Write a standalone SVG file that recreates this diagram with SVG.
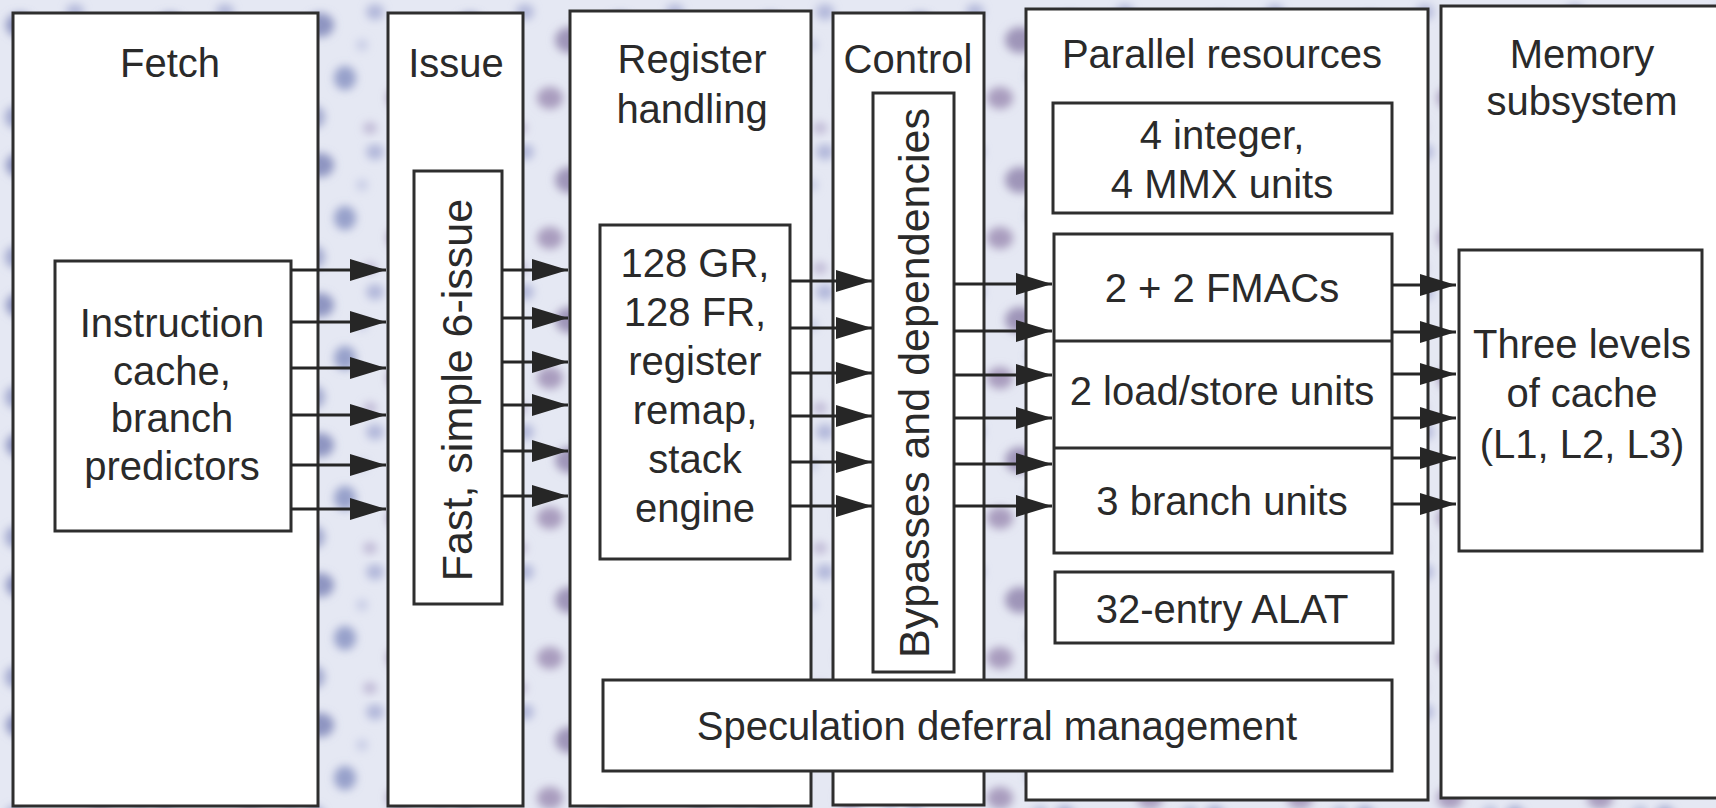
<svg xmlns="http://www.w3.org/2000/svg" width="1716" height="808" viewBox="0 0 1716 808">
  <defs>
    <filter id="blur" x="-50%" y="-50%" width="200%" height="200%">
      <feGaussianBlur stdDeviation="4"/>
    </filter>
    <pattern id="tex" width="150" height="140" patternUnits="userSpaceOnUse">
      <rect width="150" height="140" fill="#e5e8f3"/>
      <g filter="url(#blur)">
        <ellipse cx="20" cy="25" rx="14" ry="12" fill="#7f86b8" opacity="0.85"/>
        <ellipse cx="75" cy="12" rx="9" ry="8" fill="#a1a8d2" opacity="0.75"/>
        <ellipse cx="120" cy="40" rx="15" ry="13" fill="#9286ae" opacity="0.85"/>
        <ellipse cx="45" cy="78" rx="11" ry="12" fill="#858fc0" opacity="0.8"/>
        <ellipse cx="100" cy="98" rx="13" ry="11" fill="#9a8bb2" opacity="0.8"/>
        <ellipse cx="140" cy="114" rx="8" ry="8" fill="#a8b0d6" opacity="0.75"/>
        <ellipse cx="15" cy="117" rx="10" ry="11" fill="#9199c6" opacity="0.8"/>
        <ellipse cx="70" cy="128" rx="7" ry="6" fill="#b3aacb" opacity="0.75"/>
        <ellipse cx="62" cy="45" rx="6" ry="6" fill="#bcc2e0" opacity="0.7"/>
        <ellipse cx="134" cy="76" rx="7" ry="8" fill="#868dbb" opacity="0.75"/>
      </g>
    </pattern>
    <marker id="arr" markerUnits="userSpaceOnUse" markerWidth="38" markerHeight="24" refX="36" refY="11" orient="auto">
      <path d="M0,0 L36,11 L0,22 z" fill="#262626"/>
    </marker>
    <style>
      .col { fill: #ffffff; stroke: #2e2e2e; stroke-width: 3; }
      .box { fill: #ffffff; stroke: #2e2e2e; stroke-width: 3; }
      .t { font-family: "Liberation Sans", Arial, sans-serif; font-size: 40px; fill: #2a2a2a; text-anchor: middle; }
      .rt { font-family: "Liberation Sans", Arial, sans-serif; font-size: 43px; fill: #2a2a2a; text-anchor: middle; }
      .c line { stroke: #262626; stroke-width: 3; marker-end: url(#arr); }
    </style>
  </defs>

  <rect width="1716" height="808" fill="url(#tex)"/>

  <g id="fetch">
    <rect class="col" x="13" y="13" width="305" height="793"/>
    <text class="t" x="170" y="77">Fetch</text>
  </g>
  <g id="instruction-cache">
    <rect class="box" x="55" y="261" width="236" height="270"/>
    <text class="t" x="172" y="337">Instruction</text>
    <text class="t" x="172" y="385">cache,</text>
    <text class="t" x="172" y="432">branch</text>
    <text class="t" x="172" y="480">predictors</text>
  </g>

  <g id="issue">
    <rect class="col" x="388" y="13" width="135" height="793"/>
    <text class="t" x="456" y="77">Issue</text>
  </g>
  <g id="fast-issue">
    <rect class="box" x="414" y="171" width="88" height="433"/>
    <text class="rt" transform="translate(472,390) rotate(-90)">Fast, simple 6-issue</text>
  </g>

  <g id="register-handling">
    <rect class="col" x="570" y="11" width="241" height="795"/>
    <text class="t" x="692" y="73">Register</text>
    <text class="t" x="692" y="123">handling</text>
  </g>
  <g id="registers">
    <rect class="box" x="600" y="225" width="190" height="334"/>
    <text class="t" x="695" y="277">128 GR,</text>
    <text class="t" x="695" y="326">128 FR,</text>
    <text class="t" x="695" y="375">register</text>
    <text class="t" x="695" y="424">remap,</text>
    <text class="t" x="695" y="473">stack</text>
    <text class="t" x="695" y="522">engine</text>
  </g>

  <g id="control">
    <rect class="col" x="833" y="13" width="151" height="792"/>
    <text class="t" x="908" y="73">Control</text>
  </g>
  <g id="bypasses">
    <rect class="box" x="873" y="93" width="81" height="579"/>
    <text class="rt" transform="translate(929,383) rotate(-90)">Bypasses and dependencies</text>
  </g>

  <g id="parallel-resources">
    <rect class="col" x="1026" y="9" width="402" height="791"/>
    <text class="t" x="1222" y="68">Parallel resources</text>
  </g>
  <g id="integer-units">
    <rect class="box" x="1053" y="103" width="339" height="110"/>
    <text class="t" x="1222" y="149">4 integer,</text>
    <text class="t" x="1222" y="198">4 MMX units</text>
  </g>
  <g id="execution-units">
    <rect class="box" x="1054" y="234" width="338" height="319"/>
    <line x1="1054" y1="341" x2="1392" y2="341" stroke="#2e2e2e" stroke-width="3"/>
    <line x1="1054" y1="448" x2="1392" y2="448" stroke="#2e2e2e" stroke-width="3"/>
    <text class="t" x="1222" y="302">2 + 2 FMACs</text>
    <text class="t" x="1222" y="405">2 load/store units</text>
    <text class="t" x="1222" y="515">3 branch units</text>
  </g>
  <g id="alat">
    <rect class="box" x="1055" y="572" width="338" height="71"/>
    <text class="t" x="1222" y="623">32-entry ALAT</text>
  </g>

  <g id="memory-subsystem">
    <rect class="col" x="1441" y="6" width="290" height="792"/>
    <text class="t" x="1582" y="68">Memory</text>
    <text class="t" x="1582" y="115">subsystem</text>
  </g>
  <g id="cache">
    <rect class="box" x="1459" y="250" width="243" height="301"/>
    <text class="t" x="1582" y="358">Three levels</text>
    <text class="t" x="1582" y="407">of cache</text>
    <text class="t" x="1582" y="458">(L1, L2, L3)</text>
  </g>

  <g id="speculation">
    <rect class="box" x="603" y="680" width="789" height="91"/>
    <text class="t" x="997" y="740">Speculation deferral management</text>
  </g>

  <g id="connectors" class="c">
    <line x1="291" y1="270" x2="386" y2="270"/>
    <line x1="291" y1="322" x2="386" y2="322"/>
    <line x1="291" y1="368" x2="386" y2="368"/>
    <line x1="291" y1="415" x2="386" y2="415"/>
    <line x1="291" y1="465" x2="386" y2="465"/>
    <line x1="291" y1="509" x2="386" y2="509"/>

    <line x1="502" y1="270" x2="568" y2="270"/>
    <line x1="502" y1="318" x2="568" y2="318"/>
    <line x1="502" y1="362" x2="568" y2="362"/>
    <line x1="502" y1="405" x2="568" y2="405"/>
    <line x1="502" y1="451" x2="568" y2="451"/>
    <line x1="502" y1="496" x2="568" y2="496"/>

    <line x1="790" y1="281" x2="872" y2="281"/>
    <line x1="790" y1="328" x2="872" y2="328"/>
    <line x1="790" y1="373" x2="872" y2="373"/>
    <line x1="790" y1="416" x2="872" y2="416"/>
    <line x1="790" y1="462" x2="872" y2="462"/>
    <line x1="790" y1="506" x2="872" y2="506"/>

    <line x1="954" y1="284" x2="1052" y2="284"/>
    <line x1="954" y1="331" x2="1052" y2="331"/>
    <line x1="954" y1="375" x2="1052" y2="375"/>
    <line x1="954" y1="418" x2="1052" y2="418"/>
    <line x1="954" y1="464" x2="1052" y2="464"/>
    <line x1="954" y1="506" x2="1052" y2="506"/>

    <line x1="1392" y1="285" x2="1456" y2="285"/>
    <line x1="1392" y1="332" x2="1456" y2="332"/>
    <line x1="1392" y1="374" x2="1456" y2="374"/>
    <line x1="1392" y1="418" x2="1456" y2="418"/>
    <line x1="1392" y1="458" x2="1456" y2="458"/>
    <line x1="1392" y1="504" x2="1456" y2="504"/>
  </g>
</svg>
